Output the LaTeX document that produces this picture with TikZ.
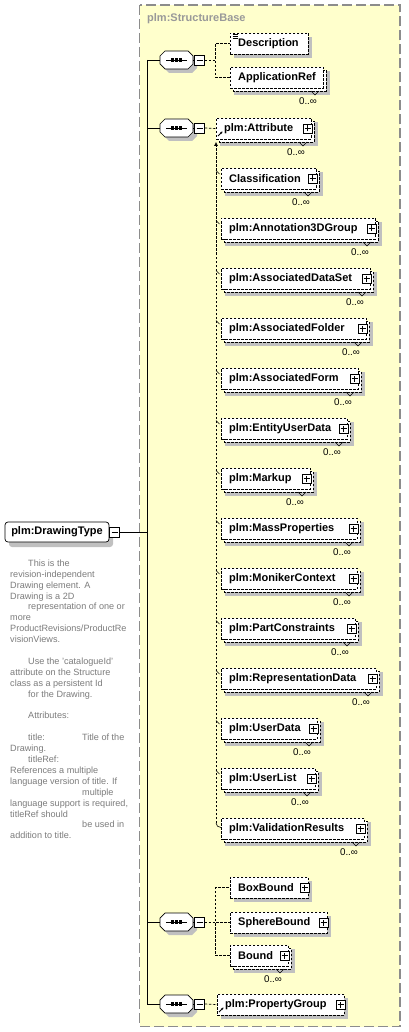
\documentclass[tikz,border=0pt]{standalone}
\usepackage{fontspec}
\setmainfont{Liberation Sans}
\usetikzlibrary{arrows.meta,calc}
\definecolor{bgyellow}{HTML}{FFFFCC}
\definecolor{shadowc}{HTML}{C0C0C0}
\definecolor{docgray}{HTML}{7C7C7C}
\definecolor{framegray}{HTML}{8C8C8C}
\definecolor{titlegray}{HTML}{999999}

\tikzset{
  ebox/.style={draw=black, fill=white, dash pattern=on 2.5pt off 1.5pt, line width=0.7pt, inner sep=0pt},
  etext/.style={font=\fontsize{11}{13}\selectfont\bfseries, inner sep=0pt, text=black},
  card/.style={font=\fontsize{9.8}{11}\selectfont, inner sep=0pt},
  plusb/.style={draw=black, solid, fill=white, line width=0.6pt, minimum size=9pt, inner sep=0pt,
    path picture={\draw[line width=0.6pt] ([xshift=-3pt]path picture bounding box.center) -- ([xshift=3pt]path picture bounding box.center);
                  \draw[line width=0.6pt] ([yshift=-3pt]path picture bounding box.center) -- ([yshift=3pt]path picture bounding box.center);}},
  minusb/.style={draw=black, solid, fill=white, line width=0.6pt, minimum size=10pt, inner sep=0pt,
    path picture={\draw[line width=0.6pt] ([xshift=-3pt]path picture bounding box.center) -- ([xshift=3pt]path picture bounding box.center);}},
  dashcon/.style={draw=black, line width=0.7pt, dash pattern=on 2.5pt off 1.5pt},
  solidcon/.style={draw=black, line width=0.9pt},
  octo/.style={draw=black, fill=white, line width=0.7pt},
  doc/.style={font=\fontsize{9.1}{10.9}\selectfont, text=docgray, align=left, inner sep=0pt, anchor=north west},
}

% #1 name, #2 left, #3 right, #4 y centre, #5 label, #6 multi (1/0), #7 plus box (1/0)
\newcommand\xelem[7]{%
  \ifnum#6=1
    \fill[shadowc] ({#2+4},{#4-6}) rectangle ({#3+7},{#4+18});
    \draw[ebox] ({#2+3},{#4-7}) rectangle ({#3+3},{#4+14});
  \else
    \fill[shadowc] ({#2+4},{#4-6}) rectangle ({#3+4},{#4+15});
  \fi
  \node[ebox, minimum width={#3-#2}, minimum height=21pt, anchor=west] (#1) at (#2,{#4+0.5}) {};
  \node[etext, anchor=west] (#1-t) at ([xshift=8pt]#1.west) {#5};
  \ifnum#7=1 \node[plusb] (#1-p) at ([xshift=-4pt]#1.east) {};\fi
  \ifnum#6=1
    \draw[line width=0.6pt] ({#3-12},{#4+14}) -- ({#3-8},{#4+18}) -- ({#3-4},{#4+14});
    \node[card] (#1-c) at ({#3-15},{#4+24}) {0..∞};
  \fi
}

% #1 name, #2 y centre
\newcommand\xocto[2]{%
  \fill[shadowc, shift={(4,4)}] (160,{#2-4}) -- (165,{#2-9}) -- (188,{#2-9}) -- (193,{#2-4}) -- (193,{#2+4}) -- (188,{#2+9}) -- (165,{#2+9}) -- (160,{#2+4}) -- cycle;
  \draw[octo] (160,{#2-4}) -- (165,{#2-9}) -- (188,{#2-9}) -- (193,{#2-4}) -- (193,{#2+4}) -- (188,{#2+9}) -- (165,{#2+9}) -- (160,{#2+4}) -- cycle;
  \node[inner sep=0pt, minimum width=33pt, minimum height=18pt] (#1) at (176.5,#2) {};
  \draw[line width=0.9pt] (166,#2) -- (187,#2);
  \fill (170.6,{#2-1.7}) rectangle ++(3.4,3.4);
  \fill (174.8,{#2-1.7}) rectangle ++(3.4,3.4);
  \fill (179.0,{#2-1.7}) rectangle ++(3.4,3.4);
  \node[minusb] (#1m) at (199.5,#2) {};
  \draw[line width=0.7pt] (#1.east) -- (#1m.west);
}

\begin{document}
\begin{tikzpicture}[x=1pt,y=-1pt]
\useasboundingbox (0,0) rectangle (408,1032);
\fill[white] (0,0) rectangle (408,1032);

% frame of plm:StructureBase
\draw[fill=bgyellow, draw=framegray, line width=1.3pt, dash pattern=on 10pt off 4pt] (139.5,5) rectangle (400,1026.5);
\node[font=\fontsize{11}{13}\selectfont\bfseries, text=titlegray, anchor=west, inner sep=0pt] (sbase) at (147,19) {plm:StructureBase};

% plm:DrawingType
\fill[shadowc, rounded corners=3pt] (9,527) rectangle (113,547);
\node[draw=black, fill=white, line width=0.7pt, rounded corners=3pt, minimum width=104pt, minimum height=20pt, inner sep=0pt,
      font=\fontsize{11}{13}\selectfont\bfseries] (dt) at (57,532) {plm:DrawingType};
\node[minusb] (dtm) at (114.5,532) {};

\node[doc] (doc) at (10,559.5) {%
\hspace*{18pt}This is the\\
revision-independent\\
Drawing element. A\\
Drawing is a 2D\\
\hspace*{18pt}representation of one or\\
more\\
ProductRevisions/ProductRe\\
visionViews.\\
\mbox{}\\
\hspace*{18pt}Use the 'catalogueId'\\
attribute on the Structure\\
class as a persistent Id\\
\hspace*{18pt}for the Drawing.\\
\mbox{}\\
\hspace*{18pt}Attributes:\\
\mbox{}\\
\makebox[72pt][l]{\hspace*{18pt}title:}Title of the\\
Drawing.\\
\hspace*{18pt}titleRef:\\
References a multiple\\
language version of title. If\\
\hspace*{72pt}multiple\\
language support is required,\\
titleRef should\\
\hspace*{72pt}be used in\\
addition to title.};

% sequence compositors
\xocto{s1}{60}
\xocto{s2}{128}
\xocto{s3}{922}
\xocto{s4}{1004}

% main trunk
\coordinate (tk) at (147,532);
\coordinate (ttop) at (147,60);
\coordinate (tbot) at (147,1004);
\draw[solidcon] (dtm.east) -- (tk);
\draw[solidcon] (ttop) -- (tbot);
\draw[solidcon] (ttop) -- (s1.west);
\draw[solidcon] (s2.west -| ttop) -- (s2.west);
\draw[solidcon] (s3.west -| ttop) -- (s3.west);
\draw[solidcon] (tbot) -- (s4.west);

% group 1
\xelem{desc}{230}{308}{43}{Description}{0}{0}
\xelem{apr}{230}{323}{77}{ApplicationRef}{1}{0}
\draw[line width=0.6pt] ([xshift=2.5pt,yshift=-2pt]desc.north west) -- ++(5,0);
\draw[line width=0.6pt] ([xshift=2.5pt,yshift=-4pt]desc.north west) -- ++(5,0);
\draw[line width=0.6pt] ([xshift=2.5pt,yshift=-6pt]desc.north west) -- ++(5,0);
\draw[dashcon] (s1m.east) -- ++(11,0) |- (desc.west);
\draw[dashcon] (s1m.east) -- ++(11,0) |- (apr.west);

% group 2
\xelem{attr}{216}{311}{128}{plm:Attribute}{1}{1}
\draw[line width=0.8pt, -{Stealth[length=2.5pt,width=2.5pt]}] ([xshift=2pt,yshift=-7.5pt]attr.west) -- ++(4.5,-4.5);
\draw[dashcon] (s2m.east) -- (attr.west);

\xelem{cls}{221}{316}{178}{Classification}{1}{1}
\xelem{ann}{221}{375}{228}{plm:Annotation3DGroup}{1}{1}
\xelem{ads}{221}{370}{278}{plm:AssociatedDataSet}{1}{1}
\xelem{afo}{221}{366}{328}{plm:AssociatedFolder}{1}{1}
\xelem{afm}{221}{358}{378}{plm:AssociatedForm}{1}{1}
\xelem{eud}{221}{347}{428}{plm:EntityUserData}{1}{1}
\xelem{mku}{221}{310}{478}{plm:Markup}{1}{1}
\xelem{mas}{221}{357}{528}{plm:MassProperties}{1}{1}
\xelem{mon}{221}{357}{578}{plm:MonikerContext}{1}{1}
\xelem{pco}{221}{355}{628}{plm:PartConstraints}{1}{1}
\xelem{rep}{221}{376}{678}{plm:RepresentationData}{1}{1}
\xelem{udt}{221}{317}{728}{plm:UserData}{1}{1}
\xelem{uli}{221}{315}{778}{plm:UserList}{1}{1}
\xelem{vre}{221}{364}{828}{plm:ValidationResults}{1}{1}

% substitution group line
\coordinate (subend) at (216,823);
\draw[dashcon, -{Latex[length=4pt,width=4pt]}] (subend) -- ([yshift=-2.5pt]attr.south west);
\foreach \m in {cls,ann,ads,afo,afm,eud,mku,mas,mon,pco,rep,udt,uli}{
  \draw[line width=0.6pt] ([xshift=-5pt,yshift=8pt]\m.west) -- ([xshift=-1.5pt,yshift=4.5pt]\m.west);
}
\draw[line width=0.6pt] (subend) to[out=-90,in=180] ([yshift=1pt]vre.west);

% group 3
\xelem{bxb}{230}{308}{887}{BoxBound}{0}{1}
\xelem{sph}{230}{327}{922}{SphereBound}{0}{1}
\xelem{bnd}{230}{288}{955}{Bound}{1}{1}
\draw[dashcon] (s3m.east) -- ++(11,0) |- (bxb.west);
\draw[dashcon] (s3m.east) -- ++(11,0) |- (sph.west);
\draw[dashcon] (s3m.east) -- ++(11,0) |- (bnd.west);

% group 4
\xelem{pgr}{217}{344}{1004}{plm:PropertyGroup}{0}{1}
\draw[line width=0.8pt, -{Stealth[length=2.5pt,width=2.5pt]}] ([xshift=2pt,yshift=-7.5pt]pgr.west) -- ++(4.5,-4.5);
\draw[dashcon] (s4m.east) -- (pgr.west);
\end{tikzpicture}
\end{document}
